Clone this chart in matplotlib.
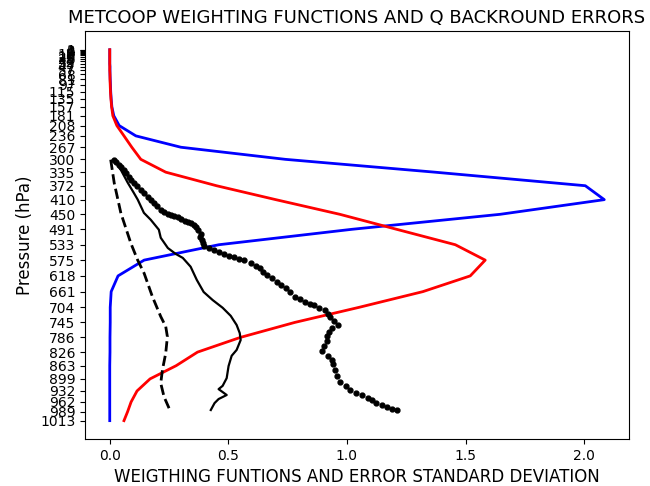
import numpy as np
import matplotlib
matplotlib.use("Agg")
import matplotlib.pyplot as plt

# Pressure levels (hPa) used for the weighting functions and y tick labels
levels = [1013, 989, 962, 932, 899, 863, 826, 786, 745, 704, 661, 618, 575, 533,
          491, 450, 410, 372, 335, 300, 267, 236, 208, 181, 157, 135, 115, 97,
          81, 68, 57, 47, 39, 32, 26, 20, 16, 12, 9, 6, 4, 2, 1]

# Weighting function 1 (blue)
wf_blue = [0.0, 0.0, 0.0, 0.0, 0.0, 0.0, 0.001, 0.001, 0.002, 0.002, 0.006, 0.035,
           0.145, 0.46, 1.02, 1.646, 2.085, 2.005, 1.37, 0.74, 0.30, 0.11, 0.04,
           0.017, 0.009, 0.006, 0.004, 0.003, 0.002, 0.001, 0.001, 0.001, 0.0,
           0.0, 0.0, 0.0, 0.0, 0.0, 0.0, 0.0, 0.0, 0.0, 0.0]

# Weighting function 2 (red)
wf_red = [0.06, 0.075, 0.09, 0.115, 0.17, 0.28, 0.37, 0.55, 0.78, 1.05, 1.32, 1.52,
          1.583, 1.457, 1.21, 0.97, 0.70, 0.45, 0.236, 0.131, 0.093, 0.06, 0.03,
          0.013, 0.008, 0.005, 0.003, 0.002, 0.001, 0.001, 0.0, 0.0, 0.0, 0.0,
          0.0, 0.0, 0.0, 0.0, 0.0, 0.0, 0.0, 0.0, 0.0]

# Q background error std (dashed)
dash_p = [301, 365, 447, 529, 574, 611, 675, 729, 756, 784, 829, 875, 911, 948, 979]
dash_v = [0.004, 0.019, 0.047, 0.089, 0.117, 0.145, 0.18, 0.215, 0.236, 0.243,
          0.236, 0.222, 0.215, 0.229, 0.25]

# Q background error std (solid)
solid_p = [301, 329, 364, 391, 410, 446, 465, 492, 514, 542, 558, 569, 593, 629,
           662, 684, 705, 727, 752, 774, 793, 820, 836, 864, 897, 918, 927, 943,
           954, 965, 984]
solid_v = [0.019, 0.047, 0.076, 0.101, 0.118, 0.144, 0.173, 0.207, 0.215, 0.245,
           0.278, 0.308, 0.341, 0.367, 0.396, 0.434, 0.476, 0.51, 0.535, 0.548,
           0.552, 0.535, 0.514, 0.501, 0.493, 0.476, 0.459, 0.493, 0.459, 0.442,
           0.426]

# Q background error std (dots)
dot_p = [301, 307, 315, 320, 328, 337, 348, 356, 364, 372, 383, 391, 402, 410,
         419, 427, 438, 443, 449, 451, 454, 457, 462, 468, 470, 473, 479, 484,
         492, 503, 512, 520, 528, 536, 541, 547, 552, 558, 563, 566, 572, 574,
         582, 591, 596, 607, 615, 623, 634, 642, 651, 662, 675, 681, 689, 694,
         697, 705, 711, 722, 730, 741, 752, 760, 771, 782, 795, 809, 823, 836,
         847, 858, 875, 891, 907, 918, 929, 937, 943, 951, 957, 965, 970, 976,
         981, 984]
dot_v = [0.017, 0.026, 0.038, 0.047, 0.059, 0.068, 0.080, 0.089, 0.101, 0.114,
         0.131, 0.144, 0.160, 0.173, 0.186, 0.198, 0.215, 0.228, 0.245, 0.257,
         0.270, 0.287, 0.299, 0.316, 0.329, 0.341, 0.354, 0.362, 0.371, 0.383,
         0.379, 0.388, 0.392, 0.396, 0.417, 0.438, 0.459, 0.480, 0.501, 0.522,
         0.543, 0.564, 0.594, 0.615, 0.632, 0.648, 0.665, 0.686, 0.707, 0.724,
         0.741, 0.762, 0.783, 0.804, 0.825, 0.846, 0.863, 0.884, 0.909, 0.922,
         0.930, 0.947, 0.964, 0.939, 0.926, 0.918, 0.918, 0.905, 0.893, 0.922,
         0.939, 0.943, 0.951, 0.960, 0.972, 0.994, 1.015, 1.040, 1.065, 1.090,
         1.107, 1.124, 1.149, 1.171, 1.191, 1.212]

title = "METCOOP WEIGHTING FUNCTIONS AND Q BACKROUND ERRORS"
xlabel = "WEIGTHING FUNTIONS AND ERROR STANDARD DEVIATION"
ylabel = "Pressure (hPa)"

fig = plt.figure(figsize=(6.5, 4.86), dpi=100)
ax = fig.add_axes([0.1308, 0.0963, 0.8369, 0.8395])

ax.plot(wf_blue, levels, color="blue", linewidth=2)
ax.plot(wf_red, levels, color="red", linewidth=2)
ax.plot(dash_v, dash_p, color="black", linestyle="--", linewidth=2)
ax.plot(solid_v, solid_p, color="black", linestyle="-", linewidth=1.6)
ax.plot(dot_v, dot_p, "k.", markersize=7)

ax.set_yticks(levels)
ax.set_yticklabels([str(l) for l in levels])
ax.invert_yaxis()

ax.set_title(title, fontsize=13)
ax.set_xlabel(xlabel, fontsize=12)
ax.set_ylabel(ylabel, fontsize=12)

fig.savefig("out.png", dpi=100)
